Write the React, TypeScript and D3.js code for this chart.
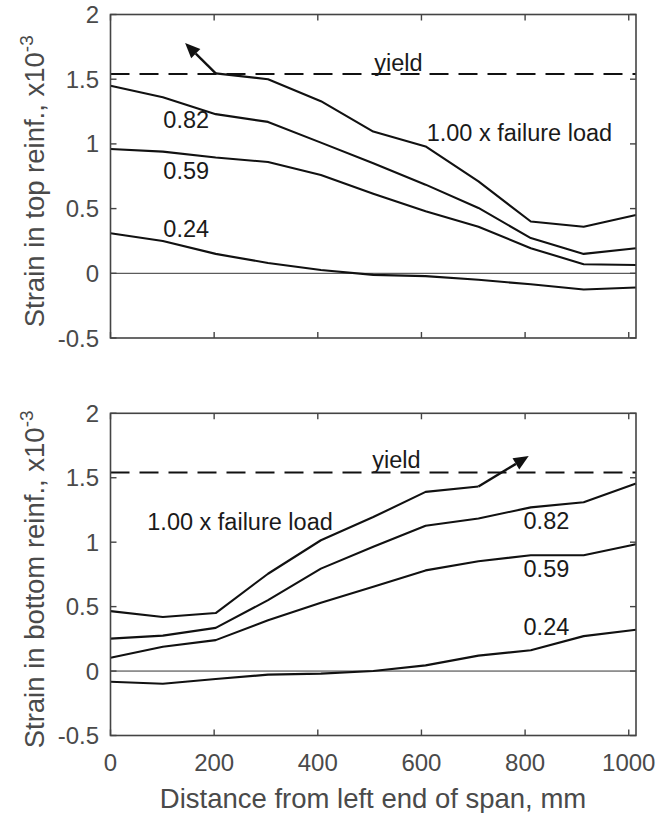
import React from 'react';
import * as d3 from 'd3';

// ---- data ----
const xPositions = [0, 101, 203, 304, 406, 507, 608, 710, 811, 913, 1014];
const xTicks = [0, 200, 400, 600, 800, 1000];
const xTickLabels = ['0', '200', '400', '600', '800', '1000'];
const yTicks = [-0.5, 0, 0.5, 1, 1.5, 2];
const yTickLabels = ['-0.5', '0', '0.5', '1', '1.5', '2'];
const yieldStrain = 1.54;

const topFailure100: (number | null)[] = [null, null, 1.545, 1.5, 1.33, 1.095, 0.98, 0.71, 0.4, 0.36, 0.45];
const topFailure082: (number | null)[] = [1.45, 1.36, 1.23, 1.17, 1.01, 0.85, 0.685, 0.505, 0.272, 0.15, 0.193];
const topFailure059: (number | null)[] = [0.96, 0.94, 0.895, 0.86, 0.76, 0.615, 0.48, 0.36, 0.194, 0.07, 0.064];
const topFailure024: (number | null)[] = [0.31, 0.25, 0.15, 0.08, 0.025, -0.012, -0.022, -0.05, -0.085, -0.125, -0.11];

const botFailure100: (number | null)[] = [0.465, 0.42, 0.45, 0.755, 1.015, 1.195, 1.39, 1.432, null, null, null];
const botFailure082: (number | null)[] = [0.252, 0.275, 0.335, 0.55, 0.795, 0.964, 1.128, 1.184, 1.27, 1.31, 1.455];
const botFailure059: (number | null)[] = [0.104, 0.188, 0.24, 0.394, 0.53, 0.654, 0.781, 0.852, 0.899, 0.899, 0.984];
const botFailure024: (number | null)[] = [-0.083, -0.098, -0.062, -0.028, -0.02, 0.0, 0.044, 0.12, 0.161, 0.271, 0.321];

// annotation arrows: [fromX, fromY, toX, toY] in data units
const topArrow = [203, 1.545, 144, 1.78];
const botArrow = [710, 1.432, 807, 1.668];

// annotation labels: text, x, y (data units)
const topLabels: [string, number, number][] = [
  ['0.82', 102, 1.12],
  ['0.59', 102, 0.729],
  ['0.24', 102, 0.278],
  ['yield', 509, 1.566],
  ['1.00 x failure load', 610, 1.025],
];
const botLabels: [string, number, number][] = [
  ['yield', 505, 1.573],
  ['1.00 x failure load', 71, 1.093],
  ['0.82', 797, 1.099],
  ['0.59', 797, 0.726],
  ['0.24', 797, 0.277],
];

const FONT = '"Liberation Sans", Arial, Helvetica, sans-serif';
const AXIS_COLOR = '#444';
const TICK_TEXT = '#4a4a4a';

type PanelProps = {
  top: number;
  bottom: number;
  series: (number | null)[][];
  labels: [string, number, number][];
  arrow: number[];
  ylabel: string;
  showXTickLabels: boolean;
};

function Panel({ top, bottom, series, labels, arrow, ylabel, showXTickLabels }: PanelProps) {
  const left = 110.5;
  const right = 636;
  const x = d3.scaleLinear().domain([0, 1014]).range([left, right]);
  const y = d3.scaleLinear().domain([-0.5, 2]).range([bottom, top]);
  const line = d3
    .line<[number, number | null]>()
    .defined((d) => d[1] !== null)
    .x((d) => x(d[0]))
    .y((d) => y(d[1] as number));

  const tickLen = 6;
  const [ax0, ay0, ax1, ay1] = arrow;
  const px0 = x(ax0), py0 = y(ay0), px1 = x(ax1), py1 = y(ay1);
  const ang = Math.atan2(py1 - py0, px1 - px0);
  const headLen = 15, headW = 6.5;
  const bx = px1 - headLen * Math.cos(ang);
  const by = py1 - headLen * Math.sin(ang);
  const head = [
    [px1, py1],
    [bx + headW * Math.sin(ang), by - headW * Math.cos(ang)],
    [bx - headW * Math.sin(ang), by + headW * Math.cos(ang)],
  ];
  const midY = (top + bottom) / 2 + 5;

  return (
    <g>
      {/* zero line */}
      <line x1={left} x2={right} y1={y(0)} y2={y(0)} stroke="#333" strokeWidth={1} />
      {/* yield line */}
      <line x1={left} x2={right} y1={y(yieldStrain)} y2={y(yieldStrain)} stroke="#111" strokeWidth={2} strokeDasharray="19 10" />
      {/* series */}
      {series.map((s, i) => (
        <path
          key={i}
          d={line(xPositions.map((xv, j) => [xv, s[j]] as [number, number | null])) || ''}
          fill="none"
          stroke="#111"
          strokeWidth={2.1}
          strokeLinejoin="round"
        />
      ))}
      {/* arrow */}
      <line x1={px0} y1={py0} x2={bx} y2={by} stroke="#111" strokeWidth={2.4} />
      <polygon points={head.map((p) => p.join(',')).join(' ')} fill="#111" />
      {/* labels */}
      {labels.map(([t, lx, ly], i) => (
        <text key={i} x={x(lx)} y={y(ly)} fontFamily={FONT} fontSize={23.5} fill="#1a1a1a">
          {t}
        </text>
      ))}
      {/* frame */}
      <rect x={left} y={top} width={right - left} height={bottom - top} fill="none" stroke={AXIS_COLOR} strokeWidth={1.6} />
      {/* x ticks */}
      {xTicks.map((t, i) => (
        <g key={'x' + i}>
          <line x1={x(t)} x2={x(t)} y1={bottom} y2={bottom - tickLen} stroke={AXIS_COLOR} strokeWidth={1.4} />
          <line x1={x(t)} x2={x(t)} y1={top} y2={top + tickLen} stroke={AXIS_COLOR} strokeWidth={1.4} />
          {showXTickLabels && (
            <text x={x(t)} y={bottom + 35.5} textAnchor="middle" fontFamily={FONT} fontSize={24} fill={TICK_TEXT}>
              {xTickLabels[i]}
            </text>
          )}
        </g>
      ))}
      {/* y ticks */}
      {yTicks.map((t, i) => (
        <g key={'y' + i}>
          <line x1={left} x2={left + tickLen} y1={y(t)} y2={y(t)} stroke={AXIS_COLOR} strokeWidth={1.4} />
          <line x1={right} x2={right - tickLen} y1={y(t)} y2={y(t)} stroke={AXIS_COLOR} strokeWidth={1.4} />
          <text x={99} y={y(t) + 8.5} textAnchor="end" fontFamily={FONT} fontSize={24} fill={TICK_TEXT}>
            {yTickLabels[i]}
          </text>
        </g>
      ))}
      {/* y label */}
      <text
        transform={`translate(44, ${midY}) rotate(-90)`}
        textAnchor="middle"
        fontFamily={FONT}
        fontSize={27.5}
        fill={TICK_TEXT}
      >
        {ylabel}
        <tspan dy={-11} fontSize={19}>-3</tspan>
      </text>
    </g>
  );
}

export default function App() {
  return (
    <svg
      width={664}
      height={813}
      viewBox="0 0 664 813"
      style={{ position: 'absolute', left: 0, top: 0, background: '#fff' }}
    >
      <rect x={0} y={0} width={664} height={813} fill="#fff" />
      <Panel
        top={14.5}
        bottom={338}
        series={[topFailure100, topFailure082, topFailure059, topFailure024]}
        labels={topLabels}
        arrow={topArrow}
        ylabel="Strain in top reinf., x10"
        showXTickLabels={false}
      />
      <Panel
        top={413.3}
        bottom={735.5}
        series={[botFailure100, botFailure082, botFailure059, botFailure024]}
        labels={botLabels}
        arrow={botArrow}
        ylabel="Strain in bottom reinf., x10"
        showXTickLabels={true}
      />
      <text x={373} y={808} textAnchor="middle" fontFamily={FONT} fontSize={27.5} fill={TICK_TEXT}>
        Distance from left end of span, mm
      </text>
    </svg>
  );
}
